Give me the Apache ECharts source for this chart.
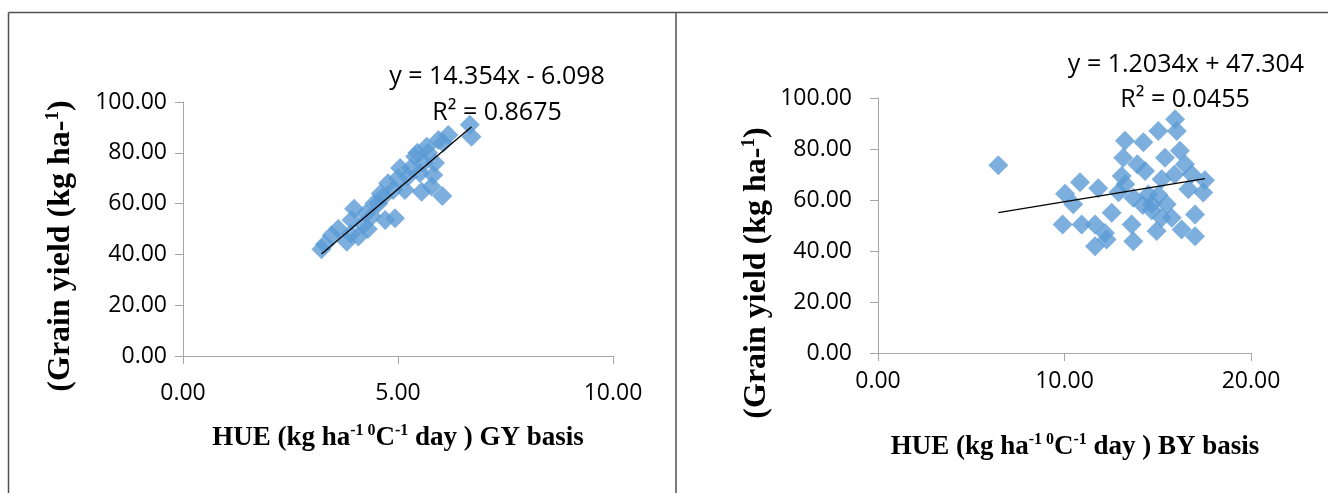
<!DOCTYPE html>
<html>
<head>
<meta charset="utf-8">
<script src="https://cdn.jsdelivr.net/npm/echarts@6/dist/echarts.min.js"></script>
<style>
  html, body { margin: 0; padding: 0; background: #ffffff; }
  #chart { width: 1328px; height: 493px; }
</style>
</head>
<body>
<div id="chart"></div>
<script>
// Heat use efficiency (grain-yield basis) vs grain yield
const gyHue = [3.22, 3.30, 3.46, 3.61, 3.81, 3.92, 3.98, 4.08, 4.19, 4.25, 4.39, 4.45, 4.54, 4.66, 4.70,
               4.77, 4.89, 4.93, 5.05, 5.16, 5.23, 5.30, 5.40, 5.51, 5.55, 5.60, 5.67, 5.78, 5.82, 5.86,
               5.94, 6.03, 6.17, 6.67, 6.71, 4.30, 5.00, 5.45, 4.60, 3.90, 5.70, 6.05];
const gyYield = [42.0, 44.0, 47.5, 50.0, 45.0, 53.5, 58.0, 47.0, 51.5, 56.0, 55.0, 60.0, 60.0, 62.7, 53.5,
                 68.0, 65.4, 54.2, 74.0, 65.4, 70.6, 74.0, 78.5, 72.0, 64.7, 76.0, 82.4, 66.7, 71.3, 76.0,
                 85.0, 63.0, 87.0, 91.0, 86.3, 50.0, 70.0, 80.0, 64.0, 48.0, 80.0, 84.0];

// Heat use efficiency (biological-yield basis) vs grain yield
const byHue = [6.45, 10.83, 10.03, 10.47, 11.81, 9.90, 10.92, 11.64, 12.17, 11.64, 12.26, 12.53, 13.24, 13.15,
               13.07, 13.60, 13.69, 14.23, 13.90, 13.69, 14.32, 14.50, 14.68, 15.03, 15.93, 16.02, 15.39, 16.19,
               16.46, 15.21, 15.90, 16.82, 17.53, 17.44, 16.64, 15.04, 15.48, 14.68, 15.21, 15.75, 17.00, 14.94,
               16.28, 17.00, 14.20, 12.90, 13.26];
const byYield = [73.6, 67.0, 62.5, 58.3, 64.6, 50.4, 50.4, 50.4, 47.1, 41.9, 44.5, 55.0, 83.2, 76.6,
                 69.4, 50.4, 43.8, 82.6, 74.0, 60.9, 71.4, 62.2, 58.3, 87.1, 91.7, 87.1, 76.6, 79.3,
                 74.0, 68.1, 70.0, 70.1, 67.7, 62.9, 64.2, 62.0, 58.3, 56.0, 53.0, 53.0, 54.3, 47.8,
                 48.4, 45.8, 58.0, 63.0, 66.2];

// Linear fits
const gySlope = 14.354, gyIntercept = -6.098, gyR2 = '0.8675';
const bySlope = 1.2034, byIntercept = 47.304, byR2 = '0.0455';

const yTicks = { min: 0, max: 100, step: 20 };
const gyTicks = { min: 0, max: 10, step: 5 };
const byTicks = { min: 0, max: 20, step: 10 };

function pairs(xs, ys) { return xs.map((x, i) => [x, ys[i]]); }
function fitLine(xs, slope, intercept) {
  const lo = Math.min(...xs), hi = Math.max(...xs);
  return [[lo, slope * lo + intercept], [hi, slope * hi + intercept]];
}
function eqText(slope, intercept) {
  const sign = intercept < 0 ? '-' : '+';
  return 'y = ' + slope + 'x ' + sign + ' ' + Math.abs(intercept).toFixed(3);
}

const tickFont = '"Open Sans", "Liberation Sans", sans-serif';
const titleFont = '"Liberation Serif", "DejaVu Serif", serif';
const axisGrey = '#a6a6a6';
const markerBlue = '#5b9bd5';
const eqFont = '25px "Open Sans"';

function valueAxis(t, labelMargin) {
  return {
    type: 'value', min: t.min, max: t.max, interval: t.step,
    axisLine: { show: true, lineStyle: { color: axisGrey, width: 1 } },
    axisTick: { show: true, inside: false, length: 8, lineStyle: { color: axisGrey } },
    splitLine: { show: false },
    axisLabel: {
      margin: labelMargin, color: '#000', fontFamily: tickFont, fontSize: 23,
      formatter: v => v.toFixed(2)
    }
  };
}

// bold serif titles with raised exponents
function titleStyle(size, supSize) {
  return {
    b: { fontFamily: titleFont, fontWeight: 'bold', fontSize: size, color: '#000' },
    s: { fontFamily: titleFont, fontWeight: 'bold', fontSize: supSize, color: '#000', verticalAlign: 'top', lineHeight: size + 3 }
  };
}
const xTitleRich = titleStyle(27, 16);
const yTitleRich = titleStyle(32, 19);
const xTitleGY = '{b|HUE (kg ha}{s|-1 0}{b|C}{s|-1}{b| day ) GY basis}';
const xTitleBY = '{b|HUE (kg ha}{s|-1 0}{b|C}{s|-1}{b| day ) BY basis}';
const yTitle = '{b|(Grain yield (kg ha-}{s|1}{b|)}';

const chart = echarts.init(document.getElementById('chart'), null, { renderer: 'canvas' });

chart.setOption({
  backgroundColor: '#ffffff',
  animation: false,
  grid: [
    { left: 183, top: 102, width: 430, height: 254, containLabel: false },
    { left: 878, top: 98, width: 373, height: 255, containLabel: false }
  ],
  xAxis: [
    Object.assign(valueAxis(gyTicks, 26), { gridIndex: 0 }),
    Object.assign(valueAxis(byTicks, 17), { gridIndex: 1 })
  ],
  yAxis: [
    Object.assign(valueAxis(yTicks, 16), { gridIndex: 0 }),
    Object.assign(valueAxis(yTicks, 26), { gridIndex: 1 })
  ],
  series: [
    {
      type: 'scatter', xAxisIndex: 0, yAxisIndex: 0,
      data: pairs(gyHue, gyYield),
      symbol: 'diamond', symbolSize: 20,
      itemStyle: { color: markerBlue }
    },
    {
      type: 'line', xAxisIndex: 0, yAxisIndex: 0,
      data: fitLine(gyHue, gySlope, gyIntercept),
      symbol: 'none', lineStyle: { color: '#000', width: 1.3 }, z: 5
    },
    {
      type: 'scatter', xAxisIndex: 1, yAxisIndex: 1,
      data: pairs(byHue, byYield),
      symbol: 'diamond', symbolSize: 20,
      itemStyle: { color: markerBlue }
    },
    {
      type: 'line', xAxisIndex: 1, yAxisIndex: 1,
      data: fitLine(byHue, bySlope, byIntercept),
      symbol: 'none', lineStyle: { color: '#000', width: 1.3 }, z: 5
    }
  ],
  graphic: [
    // panel frames
    { type: 'line', shape: { x1: 8.5, y1: 12.5, x2: 8.5, y2: 493 }, style: { stroke: '#505050', lineWidth: 1.5 } },
    { type: 'line', shape: { x1: 8.5, y1: 12.5, x2: 1328, y2: 12.5 }, style: { stroke: '#505050', lineWidth: 1.5 } },
    { type: 'line', shape: { x1: 676, y1: 12.5, x2: 676, y2: 493 }, style: { stroke: '#505050', lineWidth: 1.5 } },
    // fit equations
    { type: 'text', x: 497, y: 77, style: { text: eqText(gySlope, gyIntercept), font: eqFont, fill: '#000', align: 'center', verticalAlign: 'middle' } },
    { type: 'text', x: 497, y: 113, style: { text: 'R² = ' + gyR2, font: eqFont, fill: '#000', align: 'center', verticalAlign: 'middle' } },
    { type: 'text', x: 1186, y: 65, style: { text: eqText(bySlope, byIntercept), font: eqFont, fill: '#000', align: 'center', verticalAlign: 'middle' } },
    { type: 'text', x: 1185, y: 100, style: { text: 'R² = ' + byR2, font: eqFont, fill: '#000', align: 'center', verticalAlign: 'middle' } },
    // axis titles
    { type: 'text', x: 398, y: 438, style: { text: xTitleGY, rich: xTitleRich, align: 'center', verticalAlign: 'middle' } },
    { type: 'text', x: 1075, y: 447, style: { text: xTitleBY, rich: xTitleRich, align: 'center', verticalAlign: 'middle' } },
    { type: 'text', x: 61, y: 246, rotation: Math.PI / 2, style: { text: yTitle, rich: yTitleRich, align: 'center', verticalAlign: 'middle' } },
    { type: 'text', x: 757, y: 273, rotation: Math.PI / 2, style: { text: yTitle, rich: yTitleRich, align: 'center', verticalAlign: 'middle' } }
  ]
});
</script>
</body>
</html>
